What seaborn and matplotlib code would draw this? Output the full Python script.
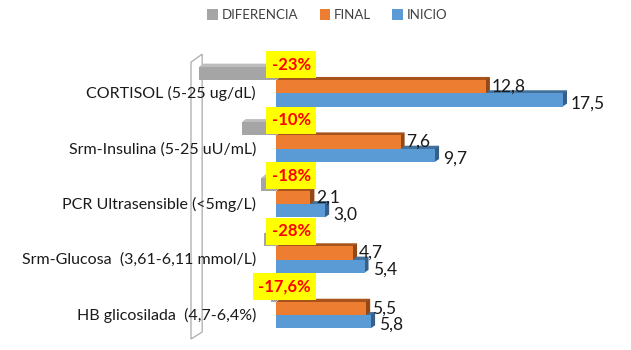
import numpy as np
import pandas as pd
import matplotlib
matplotlib.use("Agg")
import matplotlib.pyplot as plt
from matplotlib.patches import Patch, Polygon
import seaborn as sns

# Datos
categorias = ["CORTISOL (5-25 ug/dL)", "Srm-Insulina (5-25 uU/mL)",
              "PCR Ultrasensible (<5mg/L)", "Srm-Glucosa  (3,61-6,11 mmol/L)",
              "HB glicosilada  (4,7-6,4%)"]
inicio = [17.5, 9.7, 3.0, 5.4, 5.8]
final = [12.8, 7.6, 2.1, 4.7, 5.5]
diferencia = [-4.7, -2.1, -0.9, -0.7, -0.3]
porcentajes = ["-23%", "-10%", "-18%", "-28%", "-17,6%"]

series = ["DIFERENCIA", "FINAL", "INICIO"]
colores = {"DIFERENCIA": "#A5A5A5", "FINAL": "#ED7D31", "INICIO": "#5B9BD5"}
# (cara superior, cara lateral) para el efecto 3D
caras = {"DIFERENCIA": ("#BDBDBD", "#7F7F7F"),
         "FINAL": ("#A8531C", "#944816"),
         "INICIO": ("#41719C", "#36608A")}

df = pd.DataFrame({
    "categoria": categorias * 3,
    "serie": ["DIFERENCIA"] * 5 + ["FINAL"] * 5 + ["INICIO"] * 5,
    "valor": diferencia + final + inicio,
})

sns.set_theme(style="white")
plt.rcParams["font.family"] = ["Lato", "DejaVu Sans"]

fig = plt.figure(figsize=(6.31, 3.5), dpi=100)
ax = fig.add_axes([191 / 631, 10 / 350, 413 / 631, 285 / 350])

sns.barplot(data=df, y="categoria", x="valor", hue="serie", hue_order=series,
            order=categorias, orient="h", palette=colores, saturation=1,
            width=0.72, legend=False, errorbar=None, linewidth=0, ax=ax)

ax.set_xlim(-5.18, 20.0)
ax.set_ylim(4.57, -0.57)

# efecto 3D simple: cara superior y lateral derecha
px_x = 413 / 25.18
px_y = 285 / 5.14
dx, dy = 4 / px_x, 3 / px_y
z_base = {"INICIO": 1, "FINAL": 3, "DIFERENCIA": 5}
for serie, cont in zip(series, ax.containers):
    sup, lat = caras[serie]
    for bar in cont:
        x0 = min(bar.get_x(), bar.get_x() + bar.get_width())
        x1 = max(bar.get_x(), bar.get_x() + bar.get_width())
        y0 = bar.get_y()
        y1 = y0 + bar.get_height()
        bar.set_zorder(z_base[serie] + 1)
        bar.set_edgecolor("none")
        bar.set_linewidth(0)
        top = Polygon([(x0, y0 + 0.01), (x0 + dx, y0 - dy), (x1 + dx, y0 - dy), (x1, y0 + 0.01)],
                      closed=True, fc=sup, ec="none", lw=0, zorder=z_base[serie])
        side = Polygon([(x1 - 0.03, y0), (x1 + dx, y0 - dy), (x1 + dx, y1 - dy), (x1 - 0.03, y1)],
                       closed=True, fc=lat, ec="none", lw=0, zorder=z_base[serie])
        ax.add_patch(top)
        ax.add_patch(side)

# pared lateral del grafico 3D
pared = Polygon([(0, 0.0035), (0, 0.975), (0.027, 1.003), (0.027, 0.028)],
                closed=True, fill=False, ec="#ABABAB", lw=0.9,
                transform=ax.transAxes, clip_on=False, zorder=0.5)
ax.add_patch(pared)

# etiquetas de valores
for i in range(len(categorias)):
    ax.text(final[i] + 6 / px_x, i + 0.0, f"{final[i]:.1f}".replace(".", ","),
            va="center", ha="left", fontsize=12.5, color="#1A1A1A", zorder=10)
    ax.text(inicio[i] + 8 / px_x, i + 0.3, f"{inicio[i]:.1f}".replace(".", ","),
            va="center", ha="left", fontsize=12.5, color="#1A1A1A", zorder=10)
    ax.text(2.12, i - 0.39, porcentajes[i], ha="right", va="center",
            fontsize=12, fontweight="bold", color="#FF0000", zorder=11,
            bbox=dict(boxstyle="square,pad=0.33", fc="#FFFF00", ec="none"))

ax.set_yticks(np.arange(len(categorias)) + 0.1, labels=categorias)
ax.tick_params(axis="y", length=0, pad=-46.8, labelsize=11.5, labelcolor="#1A1A1A")
ax.set_xticks([])
ax.set_xlabel("")
ax.set_ylabel("")
for s in ax.spines.values():
    s.set_visible(False)
ax.patch.set_alpha(0)

handles = [Patch(facecolor=colores[s], edgecolor="none", label=s) for s in series]
fig.legend(handles=handles, loc="center", bbox_to_anchor=(0.519, 0.957), ncol=3,
           frameon=False, fontsize=9.5, handlelength=0.8, handleheight=0.8,
           handletextpad=0.3, columnspacing=1.6, labelcolor="#404040")

fig.savefig("out.png", dpi=100)
